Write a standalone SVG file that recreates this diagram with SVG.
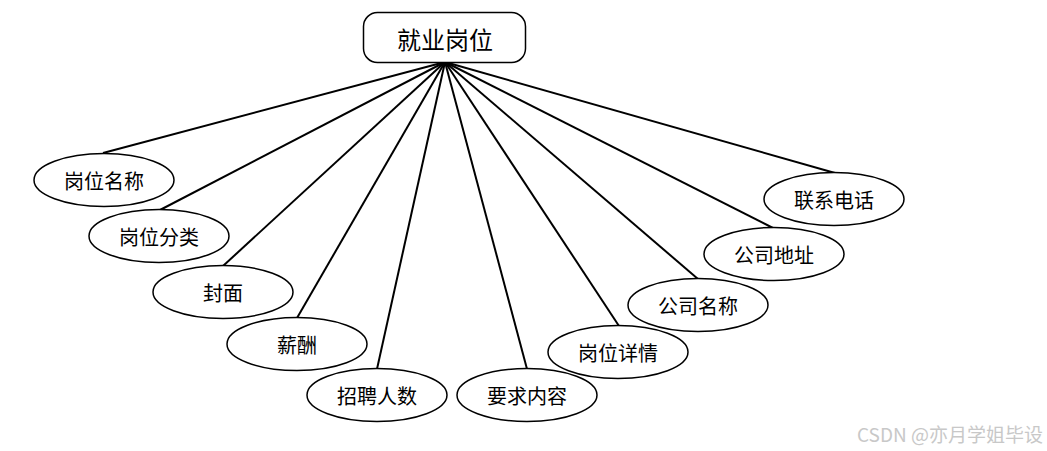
<svg xmlns="http://www.w3.org/2000/svg" width="1047" height="451" viewBox="0 0 1047 451">
<style>
.n{fill:#fff;stroke:#000;stroke-width:1.5}
.t{font-family:"Noto Sans CJK SC","Liberation Sans",sans-serif;font-size:20px;fill:#000;text-anchor:middle;dominant-baseline:central}
.c line{stroke:#000;stroke-width:2}
</style>
<rect width="1047" height="451" fill="#fff"/>
<g class="c" id="connectors">
<line x1="445" y1="62" x2="103" y2="153"/>
<line x1="445" y1="62" x2="160" y2="210"/>
<line x1="445" y1="62" x2="223" y2="266"/>
<line x1="445" y1="62" x2="297" y2="318"/>
<line x1="445" y1="62" x2="377" y2="369"/>
<line x1="445" y1="62" x2="527" y2="369"/>
<line x1="445" y1="62" x2="619" y2="326"/>
<line x1="445" y1="62" x2="698" y2="279"/>
<line x1="445" y1="62" x2="773" y2="228"/>
<line x1="445" y1="62" x2="835" y2="173"/>
</g>
<g id="root"><rect class="n" x="363.5" y="12.5" width="162" height="50" rx="14"/><text class="t" x="445" y="38" style="font-size:24px">就业岗位</text></g>
<g id="n1"><ellipse class="n" cx="104" cy="180" rx="70" ry="26.5"/><text class="t" x="104" y="180">岗位名称</text></g>
<g id="n2"><ellipse class="n" cx="159" cy="236" rx="70" ry="26.5"/><text class="t" x="159" y="236">岗位分类</text></g>
<g id="n3"><ellipse class="n" cx="223" cy="292" rx="70" ry="26.5"/><text class="t" x="223" y="292">封面</text></g>
<g id="n4"><ellipse class="n" cx="297" cy="344" rx="70" ry="26.5"/><text class="t" x="297" y="344">薪酬</text></g>
<g id="n5"><ellipse class="n" cx="377" cy="395" rx="70" ry="26.5"/><text class="t" x="377" y="395">招聘人数</text></g>
<g id="n6"><ellipse class="n" cx="527" cy="395" rx="70" ry="26.5"/><text class="t" x="527" y="395">要求内容</text></g>
<g id="n7"><ellipse class="n" cx="618" cy="352" rx="70" ry="26.5"/><text class="t" x="618" y="352">岗位详情</text></g>
<g id="n8"><ellipse class="n" cx="698" cy="305" rx="70" ry="26.5"/><text class="t" x="698" y="305">公司名称</text></g>
<g id="n9"><ellipse class="n" cx="774" cy="254" rx="70" ry="26.5"/><text class="t" x="774" y="254">公司地址</text></g>
<g id="n10"><ellipse class="n" cx="834" cy="199" rx="70" ry="26.5"/><text class="t" x="834" y="199">联系电话</text></g>
<text x="1043" y="433" style="font-family:'Noto Sans CJK SC','Liberation Sans',sans-serif;font-size:19px;fill:#c8c8c8;text-anchor:end;dominant-baseline:central">CSDN @亦月学姐毕设</text>
</svg>
